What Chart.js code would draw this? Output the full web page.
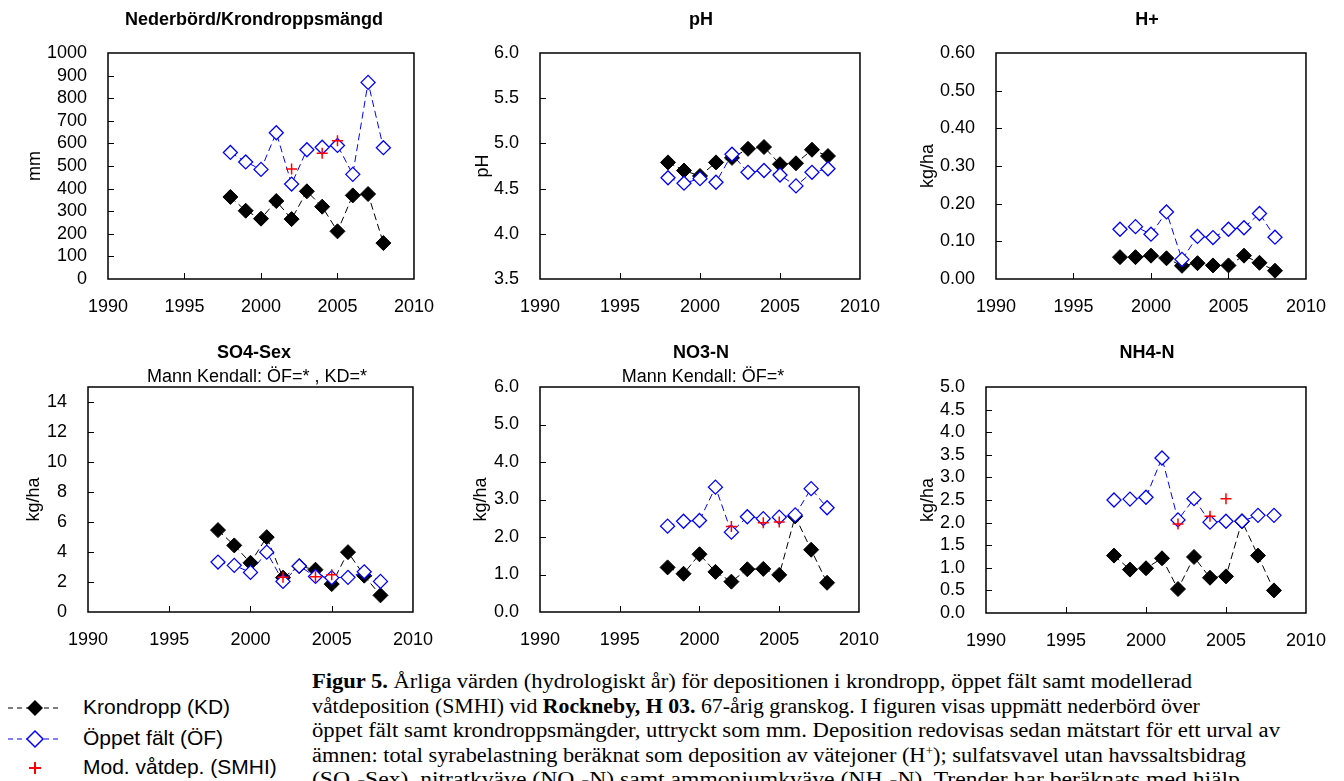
<!DOCTYPE html>
<html>
<head>
<meta charset="utf-8">
<script src="https://cdn.jsdelivr.net/npm/chart.js@4.4.1/dist/chart.umd.min.js"></script>
<style>
  body { margin: 0; width: 1344px; height: 781px; overflow: hidden; background: #fff; position: relative;
         font-family: "Liberation Sans", Arial, sans-serif; color: #000; }
  canvas.panel { position: absolute; }
  .leg { position: absolute; left: 83px; font-size: 21px; line-height: 24px; white-space: nowrap; }
  #caption { position: absolute; left: 312px; top: 669px; font-family: "Liberation Serif", "Times New Roman", serif;
             font-size: 20px; line-height: 24.5px; }
  #caption .ln { white-space: nowrap; }
  #caption .ln span { display: inline-block; transform-origin: 0 0; }
  #caption sup { font-size: 12px; vertical-align: 7px; line-height: 0; }
  #caption sub { font-size: 12px; vertical-align: -3px; line-height: 0; }
</style>
</head>
<body>

<script>
// 年（1998〜2008）と各系列の値
const years = [1998, 1999, 2000, 2001, 2002, 2003, 2004, 2005, 2006, 2007, 2008];
const smhiYears = [2002, 2004, 2005];

const nedKD   = [363, 302, 267, 345, 265, 388, 320, 211, 370, 376, 159];
const nedOF   = [560, 518, 485, 647, 420, 572, 583, 591, 463, 870, 581];
const nedSMHI = [487, 556, 612];

const phKD = [4.79, 4.70, 4.64, 4.79, 4.84, 4.94, 4.96, 4.77, 4.78, 4.93, 4.86];
const phOF = [4.62, 4.56, 4.61, 4.57, 4.88, 4.68, 4.70, 4.65, 4.53, 4.68, 4.72];

const hKD = [0.058, 0.058, 0.062, 0.055, 0.035, 0.042, 0.036, 0.036, 0.062, 0.043, 0.022];
const hOF = [0.132, 0.139, 0.119, 0.178, 0.052, 0.113, 0.110, 0.132, 0.136, 0.174, 0.111];

const so4KD   = [5.46, 4.44, 3.28, 4.99, 2.29, 3.06, 2.82, 1.86, 3.99, 2.42, 1.11];
const so4OF   = [3.33, 3.11, 2.64, 3.99, 2.04, 3.06, 2.37, 2.29, 2.31, 2.68, 2.04];
const so4SMHI = [2.31, 2.35, 2.49];

const no3KD   = [1.19, 1.02, 1.54, 1.07, 0.81, 1.14, 1.15, 0.99, 2.55, 1.66, 0.78];
const no3OF   = [2.29, 2.42, 2.44, 3.33, 2.13, 2.54, 2.49, 2.53, 2.59, 3.29, 2.78];
const no3SMHI = [2.28, 2.38, 2.40];

const nh4KD   = [1.27, 0.96, 0.99, 1.21, 0.53, 1.24, 0.78, 0.81, 2.03, 1.27, 0.50];
const nh4OF   = [2.50, 2.52, 2.56, 3.43, 2.06, 2.53, 2.01, 2.03, 2.03, 2.16, 2.16];
const nh4SMHI = [1.97, 2.14, 2.53];

// x軸の目盛
const xMin = 1990, xMax = 2010, xStep = 5;

// パネルの配置（プロット領域の位置・大きさ）とタイトル
const panels = [
  { box: { l: 108, t: 53, w: 310, h: 226 }, title: "Nederbörd/Krondroppsmängd", tx: 254, ty: 20,
    yTitle: "mm", yTitleX: 35, min: 0, max: 1000, step: 100, dec: 0, kd: nedKD, of: nedOF, smhi: nedSMHI },
  { box: { l: 540, t: 53, w: 324, h: 226 }, title: "pH", tx: 701, ty: 20,
    yTitle: "pH", yTitleX: 483, min: 3.5, max: 6.0, step: 0.5, dec: 1, kd: phKD, of: phOF, smhi: null },
  { box: { l: 996, t: 53, w: 314, h: 226 }, title: "H+", tx: 1147, ty: 20,
    yTitle: "kg/ha", yTitleX: 928, min: 0, max: 0.6, step: 0.1, dec: 2, kd: hKD, of: hOF, smhi: null },
  { box: { l: 88, t: 387, w: 329, h: 225 }, title: "SO4-Sex", tx: 254, ty: 353,
    sub: "Mann Kendall: ÖF=* , KD=*", sx: 257, sy: 377,
    yTitle: "kg/ha", yTitleX: 34, min: 0, max: 15, step: 2, dec: 0, kd: so4KD, of: so4OF, smhi: so4SMHI },
  { box: { l: 540, t: 387, w: 323, h: 225 }, title: "NO3-N", tx: 701, ty: 353,
    sub: "Mann Kendall: ÖF=*", sx: 703, sy: 377,
    yTitle: "kg/ha", yTitleX: 481, min: 0, max: 6, step: 1, dec: 1, kd: no3KD, of: no3OF, smhi: no3SMHI },
  { box: { l: 986, t: 387, w: 324, h: 226 }, title: "NH4-N", tx: 1147, ty: 353,
    yTitle: "kg/ha", yTitleX: 928, min: 0, max: 5, step: 0.5, dec: 1, kd: nh4KD, of: nh4OF, smhi: nh4SMHI }
];

const FONT = '"Liberation Sans", Arial, sans-serif';
const Y_W = 100, X_H = 45, PAD_T = 50, PAD_R = 25;

// 枠線と内向きの目盛線、パネルタイトルを描くプラグイン
const framePlugin = {
  id: "frame",
  beforeDatasetsDraw(chart) {
    const { ctx, chartArea: a, scales } = chart;
    ctx.save();
    ctx.strokeStyle = "#000";
    ctx.lineWidth = 1;
    ctx.beginPath();
    scales.x.ticks.forEach(t => {
      const px = Math.round(scales.x.getPixelForValue(t.value)) + 0.5;
      if (px > a.left + 2 && px < a.right - 2) { ctx.moveTo(px, a.bottom); ctx.lineTo(px, a.bottom - 6); }
    });
    scales.y.ticks.forEach(t => {
      const py = Math.round(scales.y.getPixelForValue(t.value)) + 0.5;
      if (py > a.top + 2 && py < a.bottom - 2) { ctx.moveTo(a.left, py); ctx.lineTo(a.left + 6, py); }
    });
    ctx.stroke();
    ctx.lineWidth = 1.5;
    ctx.strokeRect(a.left, a.top, a.right - a.left, a.bottom - a.top);
    ctx.restore();
  },
  afterDraw(chart, args, opts) {
    const ctx = chart.ctx;
    ctx.save();
    ctx.fillStyle = "#000";
    ctx.textAlign = "center";
    ctx.textBaseline = "middle";
    ctx.font = "bold 18px " + FONT;
    ctx.fillText(opts.text, opts.x, opts.y);
    if (opts.sub) {
      ctx.font = "18px " + FONT;
      ctx.fillText(opts.sub, opts.sx, opts.sy);
    }
    ctx.restore();
  }
};

function makeDatasets(p) {
  const ds = [];
  if (p.smhi) {
    ds.push({
      label: "Mod. våtdep. (SMHI)",
      data: smhiYears.map((x, i) => ({ x, y: p.smhi[i] })),
      showLine: false, pointStyle: "cross", pointRadius: 5.5,
      borderColor: "#ff0000", pointBorderColor: "#ff0000", pointBorderWidth: 1.5, order: 0
    });
  }
  ds.push({
    label: "Öppet fält (ÖF)",
    data: years.map((x, i) => ({ x, y: p.of[i] })),
    borderColor: "#0000ff", borderWidth: 1, borderDash: [7, 4],
    pointStyle: "rectRot", pointRadius: 7, pointBackgroundColor: "#fff",
    pointBorderColor: "#0000ff", pointBorderWidth: 1.3, order: 1
  });
  ds.push({
    label: "Krondropp (KD)",
    data: years.map((x, i) => ({ x, y: p.kd[i] })),
    borderColor: "#000", borderWidth: 1, borderDash: [7, 4],
    pointStyle: "rectRot", pointRadius: 7.5, pointBackgroundColor: "#000",
    pointBorderColor: "#000", pointBorderWidth: 1, order: 2
  });
  return ds;
}

panels.forEach(p => {
  const cv = document.createElement("canvas");
  cv.className = "panel";
  const left = p.box.l - Y_W, top = p.box.t - PAD_T;
  const W = p.box.w + Y_W + PAD_R, H = p.box.h + PAD_T + X_H;
  cv.width = W; cv.height = H;
  cv.style.left = left + "px"; cv.style.top = top + "px";
  cv.style.width = W + "px"; cv.style.height = H + "px";
  document.body.appendChild(cv);

  new Chart(cv, {
    type: "line",
    data: { datasets: makeDatasets(p) },
    plugins: [framePlugin],
    options: {
      responsive: false, animation: false, devicePixelRatio: 1,
      layout: { padding: { left: 0, top: PAD_T, right: PAD_R, bottom: 0 } },
      elements: { line: { tension: 0 } },
      plugins: {
        legend: { display: false }, tooltip: { enabled: false },
        frame: { text: p.title, x: p.tx - left, y: p.ty - top, sub: p.sub, sx: (p.sx || 0) - left, sy: (p.sy || 0) - top }
      },
      scales: {
        x: {
          type: "linear", min: xMin, max: xMax,
          ticks: { stepSize: xStep, autoSkip: false, maxRotation: 0, padding: 9, color: "#000",
                   font: { family: FONT, size: 18 }, callback: v => String(v) },
          grid: { display: false }, border: { display: false },
          afterFit: s => { s.height = X_H; }
        },
        y: {
          type: "linear", min: p.min, max: p.max,
          ticks: { stepSize: p.step, autoSkip: false, includeBounds: false, padding: 13, color: "#000",
                   font: { family: FONT, size: 18 }, callback: v => Number(v).toFixed(p.dec) },
          title: { display: true, text: p.yTitle, color: "#000", font: { family: FONT, size: 18 },
                   padding: { top: Y_W - (p.box.l - p.yTitleX) - 10.8, bottom: 0 } },
          grid: { display: false }, border: { display: false },
          afterFit: s => { s.width = Y_W; }
        }
      }
    }
  });
});
</script>

<!-- 凡例 -->
<svg style="position:absolute;left:0;top:690px" width="80" height="92">
  <line x1="8" y1="18" x2="62" y2="18" stroke="#000" stroke-width="1.2" stroke-dasharray="5,4"/>
  <polygon points="27,18 35,10 43,18 35,26" fill="#000"/>
  <line x1="8" y1="49" x2="62" y2="49" stroke="#0000ff" stroke-width="1.2" stroke-dasharray="5,4"/>
  <polygon points="27,49 35,41 43,49 35,57" fill="#fff" stroke="#0000ff" stroke-width="1.5"/>
  <path d="M29,78 H41 M35,72 V84" stroke="#ff0000" stroke-width="2"/>
</svg>
<div class="leg" style="top:695px">Krondropp (KD)</div>
<div class="leg" style="top:726px">Öppet fält (ÖF)</div>
<div class="leg" style="top:755px">Mod. våtdep. (SMHI)</div>

<!-- 図の説明文 -->
<div id="caption">
  <div class="ln" data-end="1192"><span><b>Figur 5.</b> Årliga värden (hydrologiskt år) för depositionen i krondropp, öppet fält samt modellerad</span></div>
  <div class="ln" data-end="1147"><span>våtdeposition (SMHI) vid <b>Rockneby, H 03.</b> 67-årig granskog. I figuren visas uppmätt nederbörd över</span></div>
  <div class="ln" data-end="1280"><span>öppet fält samt krondroppsmängder, uttryckt som mm. Deposition redovisas sedan mätstart för ett urval av</span></div>
  <div class="ln" data-end="1246"><span>ämnen: total syrabelastning beräknat som deposition av vätejoner (H<sup>+</sup>); sulfatsvavel utan havssaltsbidrag</span></div>
  <div class="ln" data-end="1283"><span>(SO<sub>4</sub>-Sex), nitratkväve (NO<sub>3</sub>-N) samt ammoniumkväve (NH<sub>4</sub>-N). Trender har beräknats med hjälp</span></div>
</div>
<script>
  // 各行を元の画像の行幅に近づける（3行目の比率を基準に、行ごとの差は±4%まで）
  const lines = [...document.querySelectorAll("#caption .ln")];
  const ratio = ln => (parseFloat(ln.dataset.end) - 312) / ln.querySelector("span").getBoundingClientRect().width;
  const base = ratio(lines[2]);
  lines.forEach(ln => {
    const s = Math.min(base * 1.04, Math.max(base * 0.96, ratio(ln)));
    ln.querySelector("span").style.transform = "scaleX(" + s.toFixed(4) + ")";
  });
</script>
</body>
</html>
